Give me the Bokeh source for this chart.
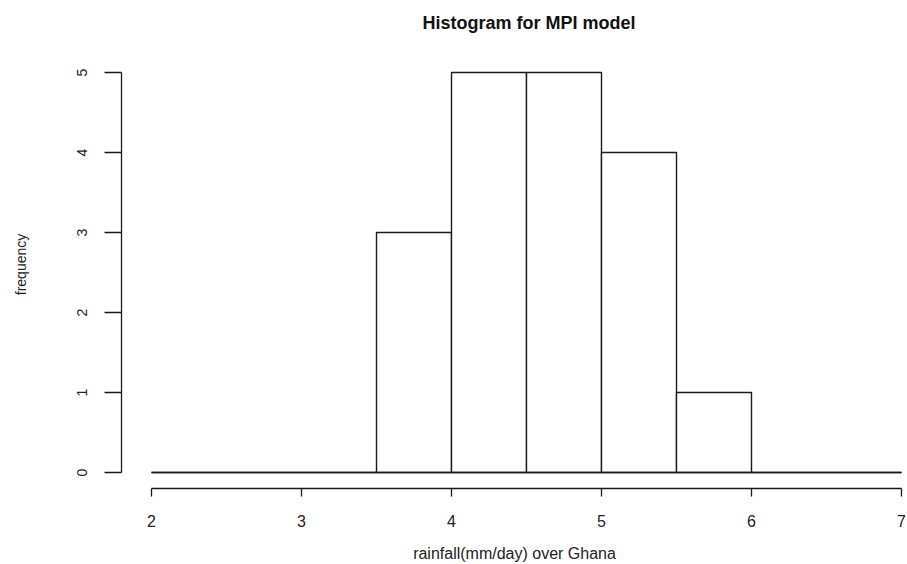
from bokeh.plotting import figure
from bokeh.models import FixedTicker, Range1d
from bokeh.embed import file_html
from bokeh.resources import INLINE

# ---- data ----
bin_edges = [2.0, 2.5, 3.0, 3.5, 4.0, 4.5, 5.0, 5.5, 6.0, 6.5, 7.0]
counts = [0, 0, 0, 3, 5, 5, 4, 1, 0, 0]
x_ticks = [2, 3, 4, 5, 6, 7]
y_ticks = [0, 1, 2, 3, 4, 5]
title_text = "Histogram for MPI model"
x_label = "rainfall(mm/day) over Ghana"
y_label = "frequency"

lefts = bin_edges[:-1]
rights = bin_edges[1:]
bottoms = [0] * len(counts)

FONT = "Liberation Sans"
INK = "#1a1a1a"

# R-style extended ranges (4% padding at the bottom/left)
x_lo, x_hi = bin_edges[0], bin_edges[-1]
y_lo, y_hi = 0, max(counts)
x_pad = 0.04 * (x_hi - x_lo)
y_pad = 0.04 * (y_hi - y_lo)

p = figure(
    width=907, height=564,
    output_backend="svg", toolbar_location=None,
    x_range=Range1d(x_lo - x_pad, 7.04), y_range=Range1d(y_lo - y_pad, 5.4),
    min_border_left=121, min_border_right=0,
    min_border_top=40, min_border_bottom=76,
)
p.outline_line_color = None
p.xgrid.visible = False
p.ygrid.visible = False
p.background_fill_color = "white"
p.border_fill_color = "white"

# title
p.title.text = title_text
p.title.text_font = FONT
p.title.text_font_size = "18px"
p.title.text_font_style = "bold"
p.title.text_color = "#111111"
p.title.align = "left"
p.title.offset = 301
p.title.standoff = 16

# histogram bars
p.quad(left=lefts, right=rights, bottom=bottoms, top=counts,
       fill_color="white", line_color=INK, line_width=1.4)
# bottom edges (zero-height bins shown as lines at 0)
p.segment(x0=lefts, x1=rights, y0=bottoms, y1=bottoms,
          line_color=INK, line_width=1.4)

# x axis
xa = p.xaxis[0]
xa.ticker = FixedTicker(ticks=x_ticks)
xa.bounds = (x_ticks[0], x_ticks[-1])
xa.minor_tick_line_color = None
xa.major_tick_in = 0
xa.major_tick_out = 8
xa.axis_line_color = INK
xa.axis_line_width = 1.3
xa.major_tick_line_color = INK
xa.major_tick_line_width = 1.3
xa.major_label_text_font = FONT
xa.major_label_text_font_size = "16px"
xa.major_label_text_color = "#222222"
xa.major_label_standoff = 18
xa.axis_label = x_label
xa.axis_label_text_font = FONT
xa.axis_label_text_font_size = "16px"
xa.axis_label_text_font_style = "normal"
xa.axis_label_text_color = "#222222"
xa.axis_label_standoff = 15

# y axis
ya = p.yaxis[0]
ya.ticker = FixedTicker(ticks=y_ticks)
ya.bounds = (y_ticks[0], y_ticks[-1])
ya.minor_tick_line_color = None
ya.major_tick_in = 0
ya.major_tick_out = 17
ya.axis_line_color = INK
ya.axis_line_width = 1.3
ya.major_tick_line_color = INK
ya.major_tick_line_width = 1.3
ya.major_label_orientation = "vertical"
ya.major_label_text_font = FONT
ya.major_label_text_font_size = "14px"
ya.major_label_text_color = "#222222"
ya.major_label_standoff = 18
ya.axis_label = y_label
ya.axis_label_text_font = FONT
ya.axis_label_text_font_size = "14px"
ya.axis_label_text_font_style = "normal"
ya.axis_label_text_color = "#222222"
ya.axis_label_standoff = 45

open("out.html", "w").write(file_html(p, INLINE))
